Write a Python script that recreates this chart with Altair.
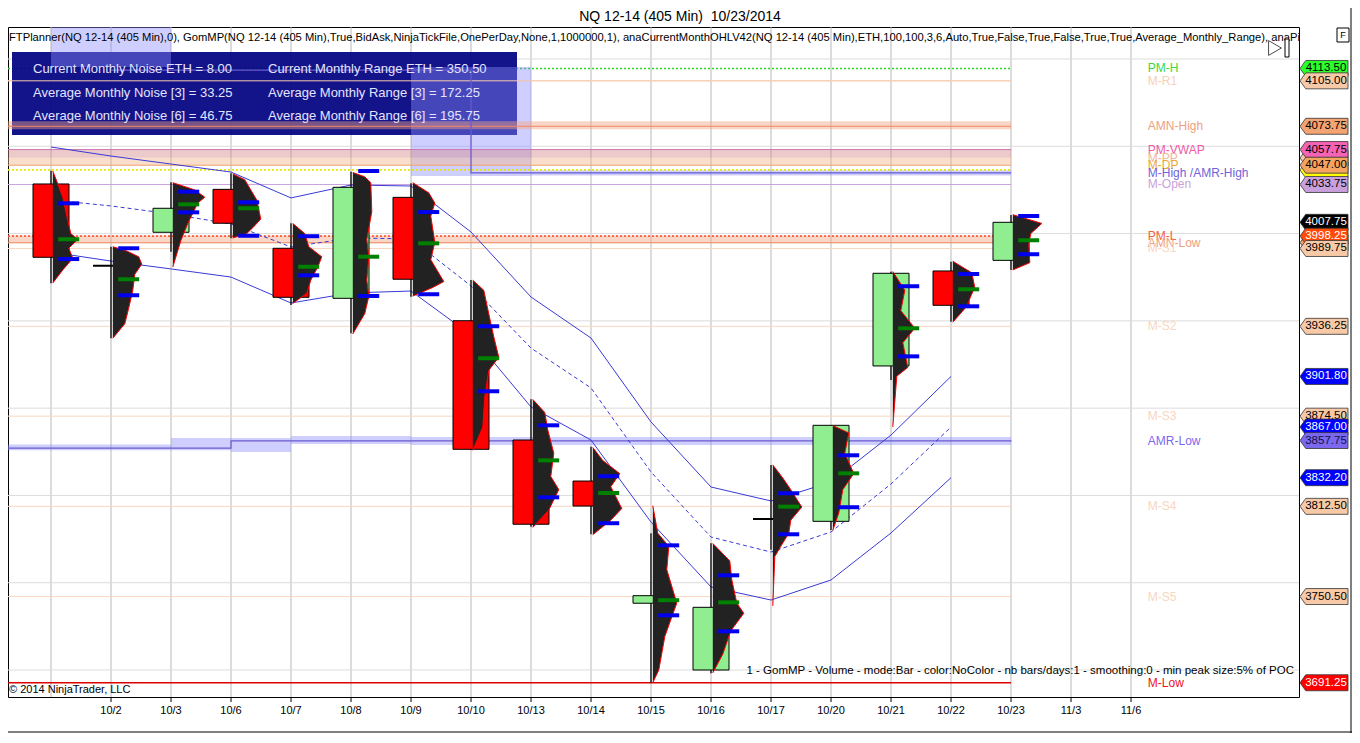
import pandas as pd
import altair as alt

# ---------------------------------------------------------------- data
DAYS = ["10/1", "10/2", "10/3", "10/6", "10/7", "10/8", "10/9", "10/10", "10/13",
        "10/14", "10/15", "10/16", "10/17", "10/20", "10/21", "10/22", "10/23"]
AXIS_DAYS = DAYS + ["11/3", "11/6"]

OPEN = [4034.1, 3977.9, 4000.9, 4030.4, 3989.9, 3955.5, 4024.9, 3940.1, 3858.1,
        3829.9, 3745.9, 3700.0, 3803.8, 3802.2, 3909.0, 3974.3, 3981.6]
HIGH = [4043.2, 3991.0, 4035.2, 4041.4, 4007.1, 4042.5, 4034.6, 3968.1, 3886.1,
        3853.5, 3794.0, 3787.1, 3840.9, 3868.5, 3973.8, 3980.7, 4012.8]
LOW = [3965.8, 3928.0, 3987.5, 3996.8, 3950.9, 3931.5, 3956.6, 3851.2, 3798.5,
       3793.3, 3691.25, 3697.7, 3782.6, 3796.2, 3899.3, 3939.4, 3975.0]
CLOSE = [3983.7, 3977.9, 4017.4, 4007.1, 3956.2, 4031.8, 3968.6, 3851.7, 3800.2,
         3812.7, 3751.1, 3743.1, 3803.8, 3868.2, 3972.7, 3950.7, 4007.75]

# value area high / point of control / value area low per session
VAH = [4020.8, 3989.9, 4028.8, 4021.5, 3998.2, 4043.0, 4014.8, 3936.3, 3868.2,
       3833.2, 3785.7, 3765.1, 3821.5, 3847.6, 3963.8, 3972.2, 4012.1]
POC = [3996.1, 3968.6, 4020.1, 4017.4, 3977.2, 3984.1, 3993.3, 3914.3, 3844.1,
       3821.7, 3748.0, 3746.5, 3812.3, 3835.2, 3934.9, 3961.7, 3995.4]
VAL = [3982.5, 3957.6, 4014.6, 3998.5, 3971.3, 3957.1, 3958.3, 3891.6, 3818.7,
       3800.9, 3737.6, 3726.6, 3793.3, 3811.9, 3915.6, 3950.0, 3985.8]

# market profile (price level, relative volume) per session
PROFILE_PRICES = [
    [4043, 4036, 4025, 4012, 4000, 3996, 3990, 3983, 3975, 3966],
    [3991, 3988, 3984, 3979, 3972, 3961, 3949, 3938, 3928],
    [4035, 4030, 4025, 4021, 4014, 4007, 3995, 3977],
    [4041, 4037, 4030, 4023, 4010, 4004, 4000, 3997],
    [4007, 4000, 3991, 3984, 3977, 3968, 3959, 3952],
    [4042, 4039, 4035, 4015, 3996, 3984, 3968, 3957, 3945, 3931],
    [4035, 4028, 4021, 4012, 3994, 3982, 3967, 3963, 3957],
    [3968, 3961, 3948, 3929, 3915, 3906, 3888, 3867, 3851],
    [3886, 3877, 3865, 3849, 3833, 3824, 3810, 3798],
    [3853, 3844, 3835, 3826, 3811, 3803, 3793],
    [3813, 3794, 3785, 3769, 3746, 3723, 3700, 3691.25],
    [3787, 3775, 3762, 3746, 3739, 3727, 3711, 3698],
    [3841, 3832, 3825, 3812, 3803, 3794, 3785, 3778, 3744],
    [3868, 3863, 3849, 3835, 3824, 3808, 3796],
    [3974, 3961, 3947, 3935, 3925, 3908, 3902, 3867],
    [3981, 3973, 3963, 3957, 3950, 3939],
    [4013, 4007, 4000, 3993, 3980, 3975],
]
PROFILE_VOLUMES = [
    [0, 4, 10, 14, 18, 25, 16, 20, 10, 0],
    [0, 14, 26, 29, 22, 20, 16, 12, 0],
    [0, 22, 32, 25, 20, 15, 8, 0],
    [0, 12, 18, 24, 28, 20, 14, 0],
    [0, 12, 16, 29, 25, 18, 14, 0],
    [0, 12, 18, 19, 14, 16, 14, 16, 12, 0],
    [0, 16, 22, 18, 22, 18, 31, 20, 0],
    [0, 11, 15, 21, 26, 16, 12, 10, 0],
    [0, 12, 15, 21, 18, 26, 16, 0],
    [0, 10, 27, 18, 29, 18, 0],
    [0, 5, 16, 14, 24, 12, 6, 0],
    [0, 17, 19, 24, 31, 18, 10, 0],
    [0, 10, 17, 29, 18, 16, 8, 2, 0],
    [0, 16, 12, 21, 10, 6, 0],
    [0, 12, 8, 22, 10, 15, 4, 0],
    [0, 19, 22, 18, 14, 0],
    [0, 29, 18, 16, 17, 0],
]

BAND_UPPER = [4059.5, 4053.3, 4047.8, 4042.3, 4024.5, 4033.4, 4032.7, 4001.1,
              3956.4, 3928.2, 3870.5, 3825.8, 3816.2, 3829.2, 3861.5, 3901.8]
BAND_MIDDLE = [4023.1, 4019.0, 4013.5, 4006.6, 3990.8, 3997.0, 3996.3, 3964.0,
               3921.3, 3893.9, 3836.1, 3791.4, 3781.1, 3794.9, 3827.9, 3867.0]
BAND_LOWER = [3987.3, 3981.1, 3975.7, 3970.1, 3952.3, 3959.2, 3960.5, 3930.3,
              3880.8, 3858.1, 3801.7, 3757.1, 3748.1, 3761.9, 3794.2, 3832.2]

LEVEL_NAMES = ["PM-H", "M-R1", "AMN-High", "PM-VWAP", "M-PP", "M-DP", "M-High /AMR-High",
               "M-Open", "PM-L", "AMN-Low", "M-S1", "M-S2", "M-S3", "AMR-Low", "M-S4",
               "M-S5", "M-Low"]
LEVEL_PRICES = [4113.50, 4105.00, 4073.75, 4057.75, 4052.00, 4047.00, 4041.75,
                4033.75, 3998.25, 3993.75, 3989.75, 3936.25, 3874.50, 3857.75, 3812.50,
                3750.50, 3691.25]
YELLOW_LEVEL = 4043.75

HALO_PRICES = [4074.4, 4054.9, 4049.4, 3996.0]

AMR_LOW_X = [-0.72, 3, 16]
AMR_LOW_Y = [3852.5, 3857.5, 3857.75]
AMR_HIGH_X = [1, 7, 16]
AMR_HIGH_Y = [4112.4, 4041.75, 4041.75]
SHADE_X0 = [-0.72, 2, 3, 4, 6, 0, 6, 8]
SHADE_X1 = [2, 3, 4, 6, 16, 2, 8, 16]
SHADE_TOP = [3855.0, 3859.5, 3859.5, 3860.8, 3860.2, 4142.0, 4114.5, 4043.5]
SHADE_BOT = [3851.0, 3851.0, 3849.8, 3855.3, 3854.7, 4114.5, 4039.6, 4040.0]

# right-hand price flags, listed back to front
FLAG_PRICES = [4043.75, 4052.00, 4113.50, 4105.00, 4073.75, 4057.75, 4047.00, 4033.75,
               4007.75, 3993.75, 3998.25, 3989.75, 3936.25, 3901.80, 3874.50, 3867.00,
               3857.75, 3832.20, 3812.50, 3750.50, 3691.25]

GRID_PRICES = [3700, 3760, 3820, 3880, 3940, 4000, 4060, 4120]
Y_TICKS = list(range(3700, 4121, 20))

BOX_TEXT = [
    ["Current Monthly Noise ETH = 8.00", "Current Monthly Range ETH = 350.50"],
    ["Average Monthly Noise [3] = 33.25", "Average Monthly Range [3] = 172.25"],
    ["Average Monthly Noise [6] = 46.75", "Average Monthly Range [6] = 195.75"],
]
TITLE = "NQ 12-14 (405 Min)\u00a0 10/23/2014"
INDICATORS = ("FTPlanner(NQ 12-14 (405 Min),0), GomMP(NQ 12-14 (405 Min),True,BidAsk,"
              "NinjaTickFile,OnePerDay,None,1,1000000,1), anaCurrentMonthOHLV42(NQ 12-14 "
              "(405 Min),ETH,100,100,3,6,Auto,True,False,True,False,True,True,"
              "Average_Monthly_Range), anaPi")
FOOTER = ("1 - GomMP - Volume - mode:Bar - color:NoColor - nb bars/days:1 - smoothing:0 - "
          "min peak size:5% of POC")
COPYRIGHT = "\u00a9 2014 NinjaTrader, LLC"

# ---------------------------------------------------------------- styles
FONT = "Liberation Sans"
W, H = 1291, 670
PAD = {"left": 0, "top": 19, "right": 53, "bottom": 36}
X_DOMAIN = [-43 / 60, 1248 / 60]
Y_DOMAIN = [3681.45, 4142.0]
LAST_DAY = 16
LABEL_X = 18.28
PEACH = "#f8d6c0"

LABEL_COLORS = {
    "PM-H": "#3cd83c", "M-R1": "#f7d0b6", "AMN-High": "#eea080", "PM-VWAP": "#f05aa8",
    "M-PP": "#f0b898", "M-DP": "#e8a838", "M-High /AMR-High": "#6f63d9",
    "M-Open": "#c9a2dc", "PM-L": "#f5603a", "AMN-Low": "#eea080", "M-S1": PEACH,
    "M-S2": PEACH, "M-S3": PEACH, "AMR-Low": "#7b68ee", "M-S4": PEACH, "M-S5": PEACH,
    "M-Low": "#ee1122",
}
LINE_COLORS = {
    "M-R1": "#f6cdb0", "AMN-High": "#f08868", "PM-VWAP": "#c877b0", "M-DP": "#eea870",
    "M-Open": "#c9a2dc", "AMN-Low": "#f09070", "M-S1": PEACH, "M-S2": PEACH,
    "M-S3": PEACH, "M-S4": PEACH, "M-S5": PEACH,
}
HALO_COLORS = ["#f4a582", "#d48a8a", "#f5b68e", "#f4a582"]
FLAG_FILLS = ["#ffff00", "#f8c9a6", "#2bff2b", "#f8c9a6", "#f4a372", "#f564b4", "#f4a460",
              "#c9a0dc", "#000000", "#f4a372", "#ff4a0a", "#f8c9a6", "#f8c9a6", "#0000ff",
              "#f8c9a6", "#0000ff", "#7b68ee", "#0000ff", "#f8c9a6", "#f8c9a6", "#ff0000"]
FLAG_INK = ["black", "black", "black", "black", "black", "black", "black", "black",
            "white", "black", "white", "black", "black", "white", "black", "white",
            "#10104a", "white", "black", "black", "white"]

xs = alt.Scale(domain=X_DOMAIN, nice=False, zero=False)
ys = alt.Scale(domain=Y_DOMAIN, nice=False, zero=False)


def xq(field, **kw):
    return alt.X(field, type="quantitative", scale=xs, axis=None, **kw)


def yq(field, **kw):
    return alt.Y(field, type="quantitative", scale=ys, axis=None, **kw)


def note(text, x, y, size, color="black", align="left", clip=False):
    return alt.Chart(pd.DataFrame({"t": [text]})).mark_text(
        align=align, baseline="middle", fontSize=size, font=FONT, color=color, clip=clip
    ).encode(x=alt.value(x), y=alt.value(y), text="t:N")


def box(x0, x1, y0, y1, **style):
    return alt.Chart(pd.DataFrame({"a": [0]})).mark_rect(**style).encode(
        x=alt.value(x0), x2=alt.value(x1), y=alt.value(y0), y2=alt.value(y1))


# ---------------------------------------------------------------- frames
n = len(DAYS)
candles = pd.DataFrame({"i": list(range(n)), "day": DAYS, "open": OPEN, "high": HIGH,
                        "low": LOW, "close": CLOSE})
candles["top"] = candles[["open", "close"]].max(axis=1)
candles["bottom"] = candles[["open", "close"]].min(axis=1)
candles["left"] = candles["i"] - 0.3
candles["right"] = candles["i"] + 0.3
candles["dir"] = ["up" if c > o else ("down" if c < o else "flat") for o, c in zip(OPEN, CLOSE)]
candles["fill"] = candles["dir"].map({"up": "#90ee90", "down": "#ff0000", "flat": "black"})

prof_rows = []
for i, (ps, vs) in enumerate(zip(PROFILE_PRICES, PROFILE_VOLUMES)):
    for p, v in zip(ps, vs):
        prof_rows.append({"day": DAYS[i], "price": p, "base": i + 0.03,
                          "edge": i + 0.03 + v / 60})
profile_df = pd.DataFrame(prof_rows)

va_rows = []
for i in range(n):
    for col, p in (("#0000ee", VAH[i]), ("#008000", POC[i]), ("#0000ee", VAL[i])):
        va_rows.append({"color": col, "price": p, "x0": i + 0.12, "x1": i + 0.47})
va_df = pd.DataFrame(va_rows)

band_df = pd.DataFrame({"i": list(range(len(BAND_UPPER))), "upper": BAND_UPPER,
                        "middle": BAND_MIDDLE, "lower": BAND_LOWER})

levels = pd.DataFrame({"name": LEVEL_NAMES, "price": LEVEL_PRICES})
levels["x0"] = X_DOMAIN[0]
levels["x1"] = LAST_DAY
levels["label_color"] = levels["name"].map(LABEL_COLORS)
levels["lx"] = LABEL_X

solid = levels[levels["name"].isin(LINE_COLORS)].copy()
solid["color"] = solid["name"].map(LINE_COLORS)
dotted = pd.DataFrame({"price": [LEVEL_PRICES[LEVEL_NAMES.index("PM-L")], YELLOW_LEVEL],
                       "color": ["#ff5a3c", "#e8e800"]})
dotted["x0"] = X_DOMAIN[0]
dotted["x1"] = LAST_DAY
under = levels[levels["name"] == "PM-H"]
r1 = levels[levels["name"] == "M-R1"]
mlow = levels[levels["name"] == "M-Low"]

halo_df = pd.DataFrame({"price": HALO_PRICES, "color": HALO_COLORS,
                        "x0": X_DOMAIN[0], "x1": LAST_DAY})
shade_df = pd.DataFrame({"x0": SHADE_X0, "x1": SHADE_X1, "top": SHADE_TOP, "bot": SHADE_BOT})
amr_low_df = pd.DataFrame({"x": AMR_LOW_X, "y": AMR_LOW_Y})
amr_high_df = pd.DataFrame({"x": AMR_HIGH_X, "y": AMR_HIGH_Y})

flag_df = pd.DataFrame({"price": FLAG_PRICES, "fill": FLAG_FILLS, "ink": FLAG_INK,
                        "order": list(range(len(FLAG_PRICES)))})
flag_df["label"] = flag_df["price"].map(lambda v: f"{v:.2f}")

xlab_df = pd.DataFrame({"i": list(range(1, len(AXIS_DAYS))), "day": AXIS_DAYS[1:]})

# ---------------------------------------------------------------- layers
vgrid = alt.Chart(pd.DataFrame({"i": list(range(len(AXIS_DAYS)))})).mark_rule(
    color="#b9b9b9", strokeWidth=1).encode(x=xq("i"))
hgrid = alt.Chart(pd.DataFrame({"p": GRID_PRICES})).mark_rule(
    color="#dcdcdc", strokeWidth=1
).encode(
    y=alt.Y("p:Q", scale=ys, axis=alt.Axis(
        orient="right", values=Y_TICKS, format=".2f", grid=False, title=None, tickSize=5,
        labelFontSize=11.5, labelPadding=2, labelFont=FONT, labelColor="black",
        tickColor="black", domainColor="black", labelOverlap=False))
)
x_ticks = alt.Chart(xlab_df).mark_rule(color="black", strokeWidth=1).encode(
    x=xq("i"), y=alt.value(H), y2=alt.value(H + 5))
x_labels = alt.Chart(xlab_df).mark_text(
    baseline="middle", align="center", fontSize=11, font=FONT, color="black"
).encode(x=xq("i"), y=alt.value(H + 14), text="day:N")

pmh = alt.Chart(under).mark_rule(color="#22dd22", strokeWidth=1.5, strokeDash=[2, 2]).encode(
    x=xq("x0"), x2="x1", y=yq("price"))
mr1 = alt.Chart(r1).mark_rule(color="#f6cdb0", strokeWidth=1).encode(
    x=xq("x0"), x2="x1", y=yq("price"))

info_box = box(4, 509, 25, 108, color="#000080", opacity=0.92)

shades = alt.Chart(shade_df).mark_rect(color="#8c8cff", opacity=0.42).encode(
    x=xq("x0"), x2="x1", y=yq("top"), y2="bot")
halos = alt.Chart(halo_df).mark_rule(strokeWidth=8, opacity=0.45).encode(
    x=xq("x0"), x2="x1", y=yq("price"), color=alt.Color("color:N", scale=None))
solid_lines = alt.Chart(solid).mark_rule(strokeWidth=1).encode(
    x=xq("x0"), x2="x1", y=yq("price"), color=alt.Color("color:N", scale=None))
dotted_lines = alt.Chart(dotted).mark_rule(strokeWidth=1.8, strokeDash=[2, 2]).encode(
    x=xq("x0"), x2="x1", y=yq("price"), color=alt.Color("color:N", scale=None))
mlow_line = alt.Chart(mlow).mark_rule(color="#dd0000", strokeWidth=1.5).encode(
    x=xq("x0"), x2="x1", y=yq("price"))
amr_low = alt.Chart(amr_low_df).mark_line(color="#6a5acd", strokeWidth=1.2,
                                          interpolate="step-after").encode(x=xq("x"), y=yq("y"))
amr_high = alt.Chart(amr_high_df).mark_line(color="#6a5acd", strokeWidth=1.2,
                                            interpolate="step-after").encode(x=xq("x"), y=yq("y"))

k_upper = alt.Chart(band_df).mark_line(color="#3a3ad6", strokeWidth=1).encode(
    x=xq("i"), y=yq("upper"))
k_middle = alt.Chart(band_df).mark_line(color="#3a3ad6", strokeWidth=1, strokeDash=[4, 3]).encode(
    x=xq("i"), y=yq("middle"))
k_lower = alt.Chart(band_df).mark_line(color="#3a3ad6", strokeWidth=1).encode(
    x=xq("i"), y=yq("lower"))

wicks = alt.Chart(candles).mark_rule(color="black", strokeWidth=1.3).encode(
    x=xq("i"), y=yq("low"), y2="high")
bodies = alt.Chart(candles).transform_filter("datum.dir != 'flat'").mark_rect(
    stroke="black", strokeWidth=1
).encode(x=xq("left"), x2="right", y=yq("bottom"), y2="top",
         fill=alt.Fill("fill:N", scale=None))
doji = alt.Chart(candles).transform_filter("datum.dir == 'flat'").mark_rule(
    color="black", strokeWidth=2).encode(x=xq("left"), x2="right", y=yq("open"))

profile_fill = alt.Chart(profile_df).mark_area(
    orient="horizontal", fill="#222222", fillOpacity=1, strokeWidth=0
).encode(y=yq("price"), x=xq("edge", stack=None), x2="base", detail="day:N")
profile_edge = alt.Chart(profile_df).mark_line(color="#ff0000", strokeWidth=1).encode(
    y=yq("price"), x=xq("edge"), detail="day:N", order=alt.Order("price:Q"))
va_bars = alt.Chart(va_df).mark_rule(strokeWidth=4).encode(
    x=xq("x0"), x2="x1", y=yq("price"), color=alt.Color("color:N", scale=None))

level_labels = alt.Chart(levels).mark_text(
    align="left", baseline="middle", fontSize=12, font=FONT
).encode(x=xq("lx"), y=yq("price"), text="name:N",
         color=alt.Color("label_color:N", scale=None))

box_texts = [note(txt, [25, 260][c], [42, 66, 89][r], 13, color="#e4e4ff")
             for r, row in enumerate(BOX_TEXT) for c, txt in enumerate(row)]
title_txt = note(TITLE, 672, -10, 14, align="center")
top_text = note(INDICATORS, 1, 11, 11.2, clip=True)
footer = note(FOOTER, 1286, 644, 11.5, align="right")
copyright_txt = note(COPYRIGHT, 1, 663, 11)
f_txt = note("F", W + 44, 8, 9, align="center")

icon_tri = alt.Chart(pd.DataFrame({"a": [0]})).mark_point(
    shape="triangle-right", filled=False, color="black", size=220, strokeWidth=1
).encode(x=alt.value(1267), y=alt.value(21))
icon_bar = box(1277, 1281, 12, 30, fill="white", stroke="black", strokeWidth=1)
f_box = box(W + 38, W + 50, 1, 15, fill="white", stroke="black", strokeWidth=1)

# outer frame of the whole picture (right and bottom edges)
frame_right = box(W + PAD["right"] - 1.5, W + PAD["right"] - 0.5, -PAD["top"], H + PAD["bottom"],
                  color="black")
frame_bottom = box(-PAD["left"], W + PAD["right"], H + PAD["bottom"] - 1.5,
                   H + PAD["bottom"] - 0.5, color="black")

# each flag is drawn with its own text so that later flags cover earlier ones
flag_shape = "M-1,0L-0.76,-0.333L1,-0.333L1,0.333L-0.76,0.333Z"
flag_layers = []
for k in range(len(FLAG_PRICES)):
    base = alt.Chart(flag_df).transform_filter(f"datum.order == {k}")
    flag_layers.append(base.mark_point(
        shape=flag_shape, filled=True, size=2304, opacity=1, stroke="#333333", strokeWidth=0.8
    ).encode(x=alt.value(W + 25), y=yq("price"), fill=alt.Fill("fill:N", scale=None)))
    flag_layers.append(base.mark_text(
        align="center", baseline="middle", fontSize=11.5, font=FONT
    ).encode(x=alt.value(W + 27), y=yq("price"), text="label:N",
             color=alt.Color("ink:N", scale=None)))

chart = alt.layer(
    vgrid, hgrid, pmh, mr1, info_box, shades, halos, solid_lines, dotted_lines,
    amr_low, amr_high, k_upper, k_middle, k_lower, mlow_line,
    wicks, bodies, doji, profile_fill, profile_edge, va_bars, level_labels,
    *box_texts, title_txt, top_text, footer, copyright_txt, x_ticks, x_labels,
    icon_tri, icon_bar, f_box, f_txt, frame_right, frame_bottom, *flag_layers,
).properties(
    width=W, height=H, autosize="none", padding=PAD,
).configure(background="white").configure_view(stroke="black", strokeWidth=1)

chart.save("out.html", embed_options={"renderer": "svg", "actions": False})
